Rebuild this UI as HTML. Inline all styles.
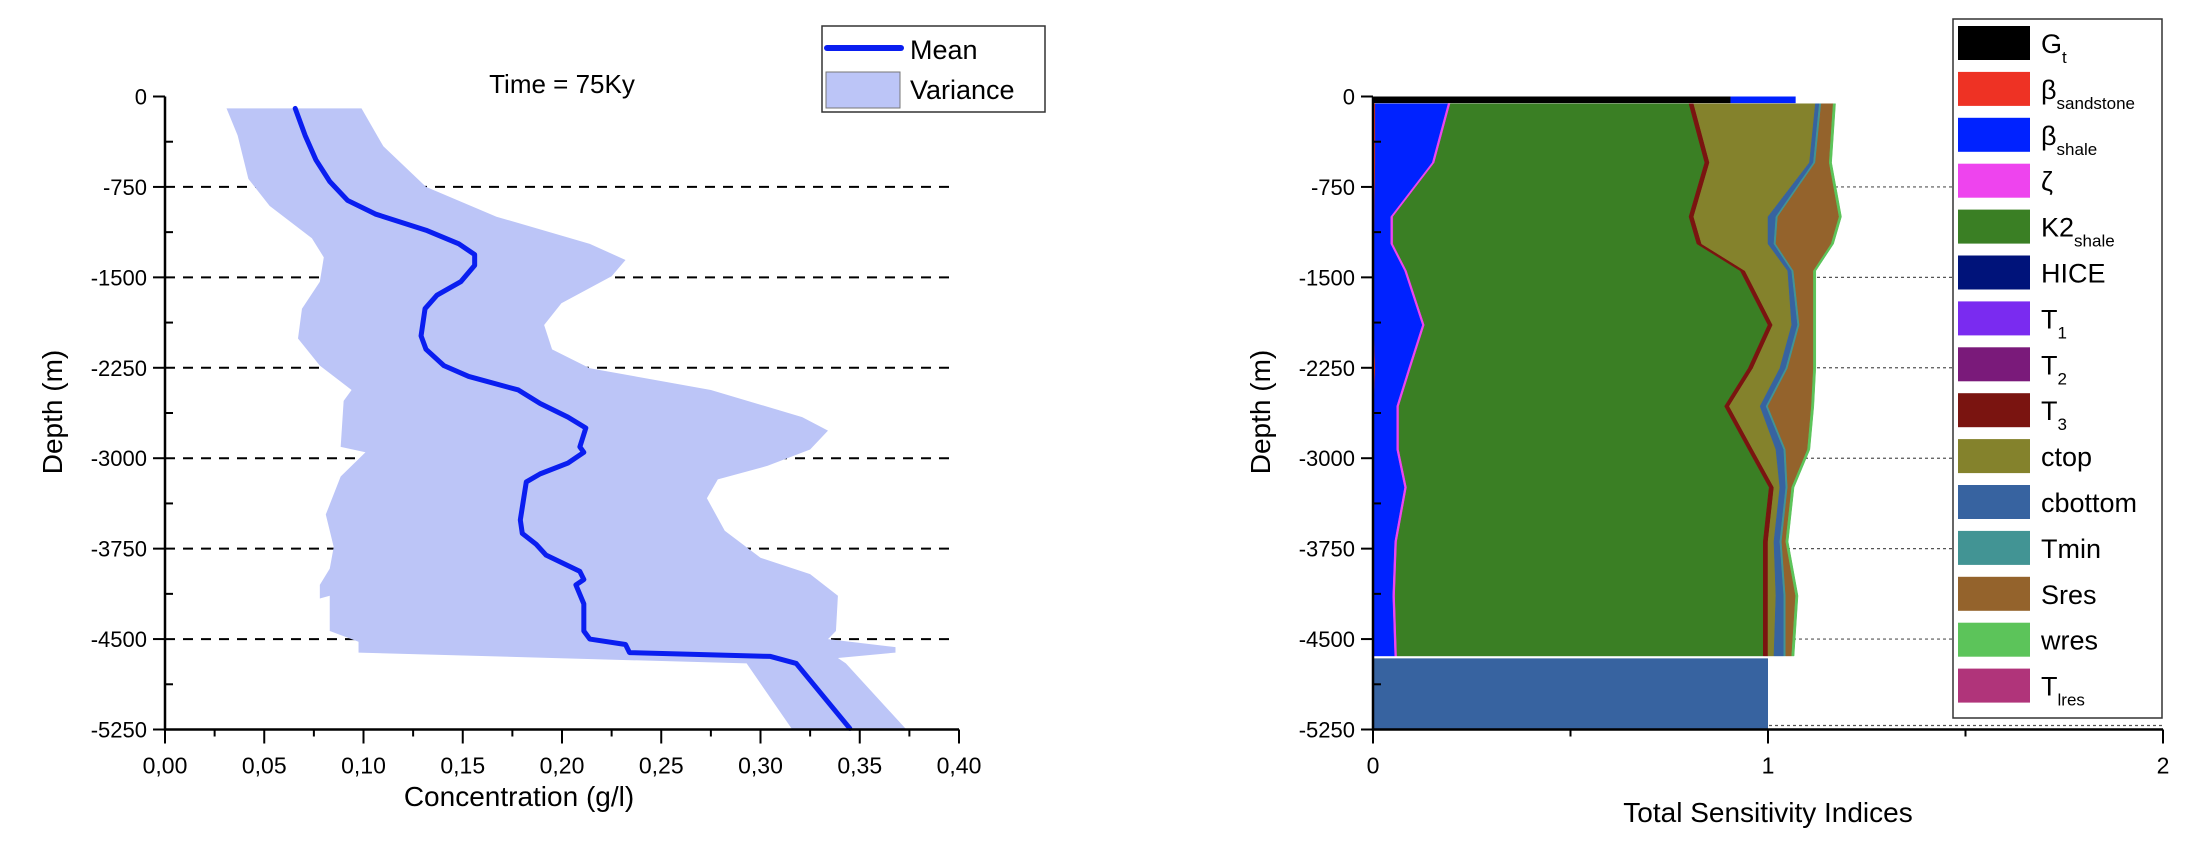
<!DOCTYPE html>
<html><head><meta charset="utf-8">
<style>
html,body{margin:0;padding:0;background:#fff;}
svg{display:block;font-family:"Liberation Sans",Arial,sans-serif;}
</style></head>
<body>
<svg id="fig" width="2204" height="846" viewBox="0 0 2204 846" xmlns="http://www.w3.org/2000/svg">
<rect width="2204" height="846" fill="#fff"/>
<g id="left"></g>
<g id="right"></g>
</svg>
<script>
// ---------- Left chart data ----------
const meanDepth = [99,323,525,705,862,975,1109,1222,1311,1401,1536,1648,1760,1985,2097,2232,2322,2434,2546,2659,2749,2906,2951,3040,3130,3197,3512,3624,3714,3804,3939,4006,4051,4208,4433,4500,4545,4612,4644,4702,5241];
const meanConc = [0.0656,0.0706,0.076,0.083,0.092,0.106,0.1315,0.148,0.156,0.156,0.149,0.137,0.131,0.129,0.1315,0.1405,0.153,0.178,0.189,0.203,0.212,0.209,0.211,0.203,0.189,0.182,0.179,0.180,0.187,0.192,0.209,0.211,0.207,0.211,0.211,0.214,0.232,0.234,0.305,0.318,0.345];
const lowDepth = [99,323,683,907,1176,1334,1536,1760,2007,2232,2434,2524,2906,2951,3152,3467,3736,3916,4051,4163,4141,4433,4522,4612,4702,5250];
const lowConc = [0.031,0.0366,0.042,0.0527,0.074,0.080,0.078,0.069,0.067,0.078,0.094,0.090,0.0885,0.101,0.0885,0.081,0.085,0.083,0.078,0.078,0.083,0.083,0.0975,0.0975,0.293,0.316];
const upDepth = [99,413,750,997,1222,1356,1491,1715,1895,2097,2254,2434,2659,2771,2928,3063,3175,3332,3602,3826,3961,4141,4433,4500,4567,4612,4657,4702,5250];
const upConc = [0.099,0.110,0.1315,0.167,0.214,0.232,0.225,0.1997,0.191,0.195,0.214,0.275,0.321,0.334,0.325,0.3036,0.2785,0.273,0.282,0.300,0.325,0.339,0.338,0.334,0.368,0.368,0.339,0.343,0.3735];
const xTicksL = ["0,00","0,05","0,10","0,15","0,20","0,25","0,30","0,35","0,40"];
const yTicks = ["0","-750","-1500","-2250","-3000","-3750","-4500","-5250"];

// ---------- Right chart data ----------
const sDepth = [60,548,997,1222,1446,1895,2254,2569,2928,3242,3692,4141,4640];
const sSand  = [0.006,0.006,0.004,0.003,0.002,0.002,0.006,0.002,0.002,0.002,0.002,0.002,0.002];
const sShale = [0.184,0.144,0.041,0.042,0.078,0.123,0.084,0.058,0.058,0.078,0.053,0.048,0.053];
const sZeta  = [0.006,0.006,0.006,0.006,0.006,0.006,0.006,0.006,0.006,0.006,0.006,0.006,0.006];
const sK2    = [0.604,0.684,0.749,0.769,0.844,0.869,0.854,0.824,0.884,0.917,0.927,0.932,0.927];
const sT3    = [0.012,0.012,0.012,0.012,0.012,0.012,0.012,0.012,0.012,0.012,0.012,0.012,0.012];
const sCtop  = [0.308,0.253,0.188,0.168,0.108,0.048,0.068,0.078,0.058,0.015,0.015,0.020,0.015];
const sCbot  = [0.010,0.010,0.020,0.015,0.010,0.015,0.015,0.015,0.020,0.015,0.015,0.020,0.025];
const sTmin  = [0.005,0.005,0.005,0.005,0.005,0.005,0.005,0.005,0.005,0.005,0.005,0.005,0.005];
const sSres  = [0.030,0.035,0.155,0.140,0.050,0.035,0.065,0.110,0.055,0.010,0.010,0.025,0.015];
const sWres  = [0.006,0.006,0.006,0.006,0.006,0.006,0.006,0.006,0.006,0.006,0.006,0.006,0.006];
const topGt = 0.905, topShale = 0.165, topDepth = 55;
const deepDepth = [4660,5250];
const deepCbot = [1.0,1.0];
const xTicksR = ["0","1","2"];
const legendNames = [["G","t"],["β","sandstone"],["β","shale"],["ζ",""],["K2","shale"],["HICE",""],["T","1"],["T","2"],["T","3"],["ctop",""],["cbottom",""],["Tmin",""],["Sres",""],["wres",""],["T","lres"]];
const legendColors = ["#000000","#ee3224","#0022ff","#ee44ee","#3a7f24","#00137a","#7a2bf0","#7a1a7a","#7a1410","#84822c","#3763a0","#429494","#94632c","#5cc45a","#b0347a"];

const NS="http://www.w3.org/2000/svg";
function el(tag, attrs, parent){const e=document.createElementNS(NS,tag);for(const k in attrs)e.setAttribute(k,attrs[k]);parent.appendChild(e);return e;}
const y0=96.5, y1=729.5;
const yS = d => y0 + d/5250*(y1-y0);

// ======== LEFT ========
const L=document.getElementById('left');
const lx0=165, lx1=959;
const xL = c => lx0 + c/0.4*(lx1-lx0);
// dashed grid
for(let i=1;i<7;i++){
  const g=el('line',{x1:lx0,x2:lx1-2,y1:yS(i*750),y2:yS(i*750),stroke:'#000','stroke-width':2,'stroke-dasharray':'10,8'},L);
  
  
}
// variance band
let pts=[];
for(let i=0;i<upDepth.length;i++)pts.push(xL(upConc[i])+','+yS(upDepth[i]));
for(let i=lowDepth.length-1;i>=0;i--)pts.push(xL(lowConc[i])+','+yS(lowDepth[i]));
const band=el('polygon',{points:pts.join(' '),fill:'#bcc5f7'},L);


// mean line
const mp=meanDepth.map((d,i)=>xL(meanConc[i])+','+yS(d)).join(' ');
const ml=el('polyline',{points:mp,fill:'none',stroke:'#0a1ef0','stroke-width':5,'stroke-linejoin':'round','stroke-linecap':'round'},L);


// axes
const ax=el('path',{d:`M${lx0},${y0} V${y1} H${lx1}`,fill:'none',stroke:'#000','stroke-width':2.5},L);


for(let i=0;i<=16;i++){
  const x=lx0+i*(lx1-lx0)/16;
  el('line',{x1:x,x2:x,y1:y1,y2:y1+(i%2?7:14),stroke:'#000','stroke-width':2},L);
}
xTicksL.forEach((t,i)=>{
  const tx=el('text',{x:lx0+i*(lx1-lx0)/8,y:y1+44,'font-size':23,'text-anchor':'middle'},L);
  tx.textContent=t;
  
  
});
for(let i=0;i<=14;i++){
  const y=y0+i*(y1-y0)/14;
  el('line',{x1:lx0-(i%2?0:12),x2:lx0+(i%2?8:0),y1:y,y2:y,stroke:'#000','stroke-width':2},L);
}
yTicks.forEach((t,i)=>{
  const tx=el('text',{x:lx0-18,y:yS(i*750)+8,'font-size':22,'text-anchor':'end'},L);
  tx.textContent=t;
  
  
});
let t=el('text',{x:519,y:806,'font-size':28,'text-anchor':'middle'},L);t.textContent='Concentration (g/l)';

t=el('text',{x:0,y:0,'font-size':28,'text-anchor':'middle',transform:'translate(62,412) rotate(-90)'},L);t.textContent='Depth (m)';

t=el('text',{x:562,y:93,'font-size':26,'text-anchor':'middle'},L);t.textContent='Time = 75Ky';

// legend
const lg=el('g',{},L);

el('rect',{x:822,y:26,width:223,height:86,fill:'#fff',stroke:'#333','stroke-width':1.5},lg);
el('line',{x1:827,x2:901,y1:48,y2:48,stroke:'#0a1ef0','stroke-width':6,'stroke-linecap':'round'},lg);
el('rect',{x:826,y:72,width:74,height:36,fill:'#bcc5f7',stroke:'#777','stroke-width':1},lg);
t=el('text',{x:910,y:59,'font-size':27},lg);t.textContent='Mean';

t=el('text',{x:910,y:99,'font-size':27},lg);t.textContent='Variance';


// ======== RIGHT ========
const R=document.getElementById('right');
const rx0=1373, rx1=2163;
const xR = v => rx0 + v/2*(rx1-rx0);
for(let i=1;i<=7;i++){
  const g=el('line',{x1:rx0,x2:rx1,y1:yS(i*750)-(i==7?4:0),y2:yS(i*750)-(i==7?4:0),stroke:'#555','stroke-width':1.2,'stroke-dasharray':'3,3'},R);
  
  
}
const comps=[sSand,sShale,sZeta,sK2,sT3,sCtop,sCbot,sTmin,sSres,sWres];
const compColors=["#ee3224","#0022ff","#ee44ee","#3a7f24","#7a1410","#84822c","#3763a0","#429494","#94632c","#5cc45a"];
const compNames=["beta-sandstone","beta-shale","zeta","k2-shale","t3","ctop","cbottom","tmin","sres","wres"];
let cum=sDepth.map(()=>0);
comps.forEach((arr,ci)=>{
  const left=cum.slice();
  cum=cum.map((c,i)=>c+arr[i]);
  let p=[];
  for(let i=0;i<sDepth.length;i++)p.push(xR(cum[i])+','+yS(sDepth[i]));
  for(let i=sDepth.length-1;i>=0;i--)p.push(xR(left[i])+','+yS(sDepth[i]));
  const poly=el('polygon',{points:p.join(' '),fill:compColors[ci],stroke:compColors[ci],'stroke-width':0.5},R);
  
  
});
// top strip
let r=el('rect',{x:xR(0),y:yS(0),width:xR(topGt)-xR(0),height:yS(topDepth)-yS(0),fill:'#000'},R);

r=el('rect',{x:xR(topGt),y:yS(0),width:xR(topGt+topShale)-xR(topGt),height:yS(topDepth)-yS(0),fill:'#0022ff'},R);

// deep cbottom block
r=el('rect',{x:xR(0),y:yS(deepDepth[0]),width:xR(deepCbot[0])-xR(0),height:yS(deepDepth[1])-yS(deepDepth[0]),fill:'#3763a0'},R);

// axes
const ax2=el('path',{d:`M${rx0},${y0} V${y1} H${rx1}`,fill:'none',stroke:'#000','stroke-width':2.5},R);

for(let i=0;i<=4;i++){
  const x=rx0+i*(rx1-rx0)/4;
  el('line',{x1:x,x2:x,y1:y1,y2:y1+(i%2?7:14),stroke:'#000','stroke-width':2},R);
}
xTicksR.forEach((s,i)=>{
  const tx=el('text',{x:rx0+i*(rx1-rx0)/2,y:y1+44,'font-size':23,'text-anchor':'middle'},R);
  tx.textContent=s;
  
  
});
for(let i=0;i<=14;i++){
  const y=y0+i*(y1-y0)/14;
  el('line',{x1:rx0-(i%2?0:12),x2:rx0+(i%2?8:0),y1:y,y2:y,stroke:'#000','stroke-width':2},R);
}
yTicks.forEach((s,i)=>{
  const tx=el('text',{x:rx0-18,y:yS(i*750)+8,'font-size':22,'text-anchor':'end'},R);
  tx.textContent=s;
  
  
});
t=el('text',{x:1768,y:822,'font-size':28,'text-anchor':'middle'},R);t.textContent='Total Sensitivity Indices';

t=el('text',{x:0,y:0,'font-size':28,'text-anchor':'middle',transform:'translate(1270,412) rotate(-90)'},R);t.textContent='Depth (m)';

// legend
const lg2=el('g',{},R);

el('rect',{x:1953,y:19,width:209,height:699,fill:'#fff',stroke:'#333','stroke-width':1.5},lg2);
legendNames.forEach((n,i)=>{
  const yy=26+i*45.9;
  const sw=el('rect',{x:1958,y:yy,width:72,height:34,fill:legendColors[i]},lg2);
  
  
  const tx=el('text',{x:2041,y:yy+27,'font-size':27},lg2);
  
  
  const a=el('tspan',{},tx);a.textContent=n[0];
  if(n[1]){const b=el('tspan',{'font-size':17,dy:10},tx);b.textContent=n[1];}
});
</script>
</body></html>
